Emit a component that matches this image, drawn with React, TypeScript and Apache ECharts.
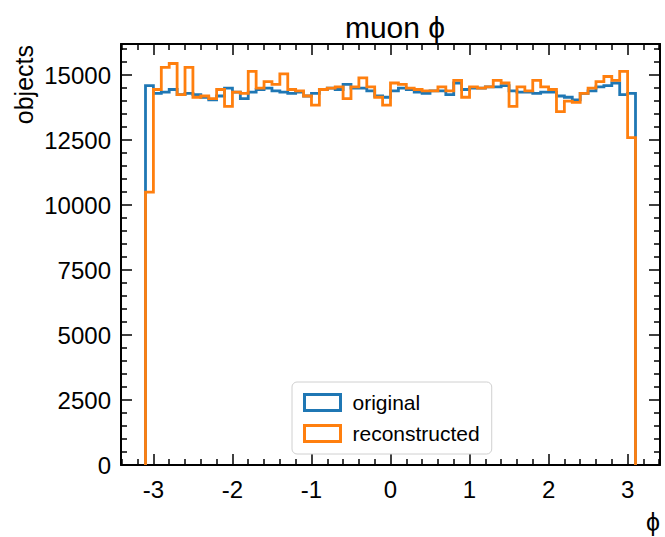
import React, { useEffect, useRef } from "react";
import * as echarts from "echarts";

// Histogram binning (phi), 62 bins of width 0.1 from -3.1 to 3.1
const BIN_START = -3.1;
const BIN_WIDTH = 0.1;

const original = [
  14600, 14300, 14350, 14450, 14250, 14300, 14250, 14150, 14050, 14200,
  14500, 14350, 14100, 14350, 14450, 14500, 14400, 14350, 14300, 14350,
  14200, 14300, 14450, 14500, 14450, 14650, 14500, 14500, 14400, 14200,
  14150, 14400, 14500, 14450, 14350, 14300, 14400, 14400, 14250, 14700,
  14450, 14500, 14500, 14550, 14550, 14600, 14400, 14350, 14350, 14300,
  14350, 14350, 14200, 14150, 14050, 14300, 14400, 14550, 14600, 14700,
  14250, 14300,
];

const reconstructed = [
  10500, 14450, 15300, 15450, 14250, 15300, 14150, 14200, 14100, 14450,
  13800, 14350, 14300, 15150, 14500, 14750, 14650, 15050, 14450, 14400,
  14200, 13850, 14450, 14500, 14550, 14100, 14550, 14900, 14550, 14150,
  13850, 14700, 14650, 14500, 14450, 14400, 14400, 14550, 14400, 14800,
  14150, 14550, 14500, 14550, 14800, 14700, 13800, 14550, 14400, 14800,
  14550, 14450, 13600, 14000, 13950, 14300, 14500, 14750, 14950, 14800,
  15150, 12600,
];

const xMajorTicks = [-3, -2, -1, 0, 1, 2, 3];
const yMajorTicks = [0, 2500, 5000, 7500, 10000, 12500, 15000];

const X_MIN = -3.41;
const X_MAX = 3.41;
const Y_MIN = 0;
const Y_MAX = 16200;

const FONT = "'Liberation Sans', Arial, Helvetica, sans-serif";

function xMinorTicks(): number[] {
  const out: number[] = [];
  for (let k = -17; k <= 17; k++) {
    if (k % 5 !== 0) out.push(Math.round(k * 0.2 * 100) / 100);
  }
  return out;
}

function yMinorTicks(): number[] {
  const out: number[] = [];
  for (let v = 500; v < Y_MAX; v += 500) {
    if (v % 2500 !== 0) out.push(v);
  }
  return out;
}

function stepPoints(values: number[]): number[][] {
  const pts: number[][] = [[BIN_START, 0]];
  values.forEach((v, i) => {
    const lo = BIN_START + i * BIN_WIDTH;
    const hi = BIN_START + (i + 1) * BIN_WIDTH;
    pts.push([lo, v]);
    pts.push([hi, v]);
  });
  pts.push([BIN_START + values.length * BIN_WIDTH, 0]);
  return pts;
}

function makeXAxis(position: "bottom" | "top", major: boolean, showLabels: boolean) {
  return {
    type: "value",
    min: X_MIN,
    max: X_MAX,
    position,
    axisLine: { show: major, onZero: false, lineStyle: { color: "#000", width: 2 } },
    axisTick: {
      show: true,
      inside: true,
      length: major ? 11 : 6,
      lineStyle: { color: "#000", width: 1.5 },
      customValues: major ? xMajorTicks : xMinorTicks(),
    },
    axisLabel: {
      show: showLabels,
      customValues: xMajorTicks,
      formatter: (v: number) => String(v),
      color: "#000",
      fontSize: 24,
      fontFamily: FONT,
      margin: 12,
    },
    splitLine: { show: false },
  };
}

function makeYAxis(position: "left" | "right", major: boolean, showLabels: boolean) {
  return {
    type: "value",
    min: Y_MIN,
    max: Y_MAX,
    position,
    axisLine: { show: major, onZero: false, lineStyle: { color: "#000", width: 2 } },
    axisTick: {
      show: true,
      inside: true,
      length: major ? 11 : 6,
      lineStyle: { color: "#000", width: 1.5 },
      customValues: major ? yMajorTicks : yMinorTicks(),
    },
    axisLabel: {
      show: showLabels,
      customValues: yMajorTicks,
      formatter: (v: number) => String(v),
      color: "#000",
      fontSize: 24,
      fontFamily: FONT,
      margin: 10,
    },
    splitLine: { show: false },
  };
}

export default function App() {
  const ref = useRef<HTMLDivElement>(null);

  useEffect(() => {
    if (!ref.current) return;
    const chart = echarts.init(ref.current, undefined, { renderer: "svg" });
    const option = {
      animation: false,
      backgroundColor: "#fff",
      title: {
        text: "muon ϕ",
        left: 390,
        top: 7,
        textAlign: "center",
        textStyle: { fontSize: 30, fontWeight: "normal", color: "#000", fontFamily: FONT },
      },
      grid: { left: 121, right: 5, top: 44, bottom: 72, containLabel: false },
      xAxis: [
        makeXAxis("bottom", true, true),
        makeXAxis("bottom", false, false),
        makeXAxis("top", true, false),
        makeXAxis("top", false, false),
      ],
      yAxis: [
        makeYAxis("left", true, true),
        makeYAxis("left", false, false),
        makeYAxis("right", true, false),
        makeYAxis("right", false, false),
      ],
      legend: {
        orient: "vertical",
        left: 292,
        top: 382,
        padding: [10, 12, 10, 11],
        itemGap: 10,
        itemWidth: 36,
        itemHeight: 16,
        backgroundColor: "#fff",
        borderColor: "#d0d0d0",
        borderWidth: 1,
        borderRadius: 5,
        textStyle: { fontSize: 21, color: "#000", fontFamily: FONT, lineHeight: 20, padding: [0, 0, 0, 7] },
        data: [
          {
            name: "original",
            icon: "rect",
            itemStyle: { color: "rgba(255,255,255,0)", borderColor: "#1f77b4", borderWidth: 3 },
          },
          {
            name: "reconstructed",
            icon: "rect",
            itemStyle: { color: "rgba(255,255,255,0)", borderColor: "#ff7f0e", borderWidth: 3 },
          },
        ],
      },
      graphic: [
        {
          type: "text",
          x: 24,
          y: 45,
          rotation: Math.PI / 2,
          style: {
            text: "objects",
            fontSize: 25,
            fontFamily: FONT,
            fill: "#000",
            align: "right",
            verticalAlign: "middle",
          },
        },
        {
          type: "text",
          x: 660,
          y: 522,
          style: {
            text: "ϕ",
            fontSize: 25,
            fontFamily: FONT,
            fill: "#000",
            align: "right",
            verticalAlign: "middle",
          },
        },
      ],
      series: [
        {
          name: "original",
          type: "line",
          xAxisIndex: 0,
          yAxisIndex: 0,
          data: stepPoints(original),
          symbol: "none",
          showSymbol: false,
          lineStyle: { color: "#1f77b4", width: 2.8, join: "miter" },
          itemStyle: { color: "#1f77b4" },
        },
        {
          name: "reconstructed",
          type: "line",
          xAxisIndex: 0,
          yAxisIndex: 0,
          data: stepPoints(reconstructed),
          symbol: "none",
          showSymbol: false,
          lineStyle: { color: "#ff7f0e", width: 2.8, join: "miter" },
          itemStyle: { color: "#ff7f0e" },
        },
      ],
    };
    chart.setOption(option as any);
    return () => chart.dispose();
  }, []);

  return (
    <div
      ref={ref}
      style={{ position: "fixed", left: 0, top: 0, width: 665, height: 537 }}
    />
  );
}
